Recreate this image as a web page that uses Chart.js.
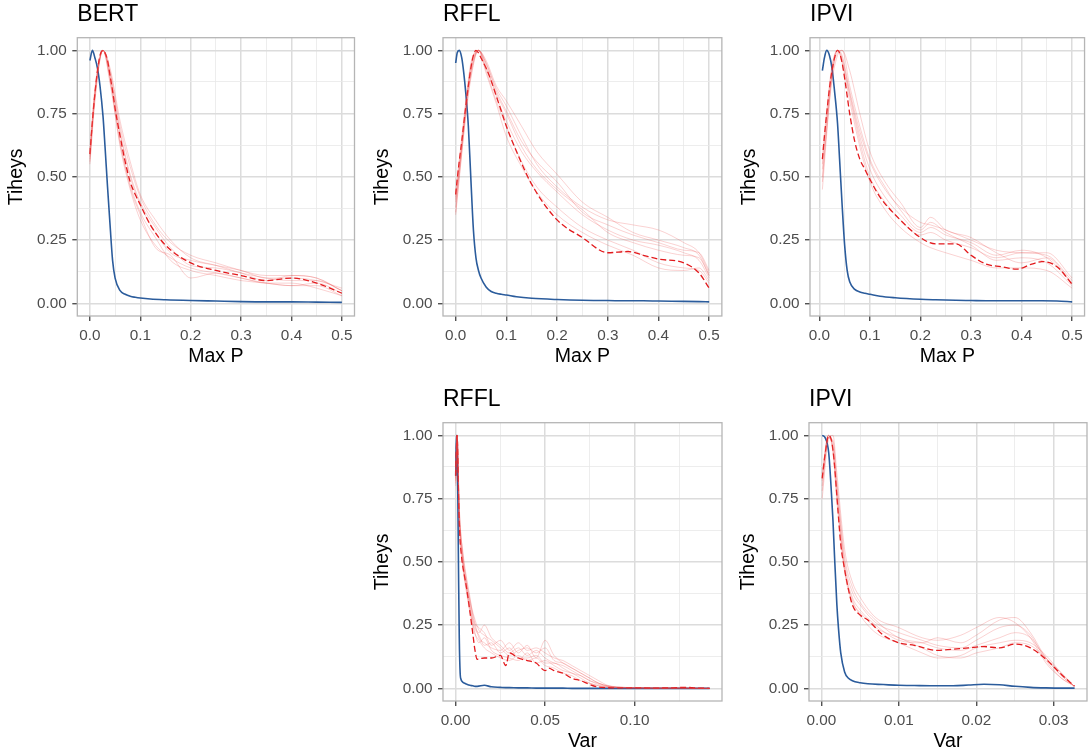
<!DOCTYPE html>
<html>
<head>
<meta charset="utf-8">
<script src="https://cdn.jsdelivr.net/npm/chart.js@4.4.0/dist/chart.umd.min.js"></script>
<style>
  html, body { margin: 0; padding: 0; background: #fff; overflow: hidden; }
  #wrap { position: relative; width: 1089px; height: 753px; }
  canvas { position: absolute; }
</style>
</head>
<body>
<div id="wrap">
  <canvas id="c1"></canvas>
  <canvas id="c2"></canvas>
  <canvas id="c3"></canvas>
  <canvas id="c4"></canvas>
  <canvas id="c5"></canvas>
</div>
<script>
// ---- BERT, Max P ----
const bertX    = [0, 0.005, 0.01, 0.015, 0.02, 0.026, 0.03, 0.035, 0.04, 0.045, 0.05, 0.06, 0.07, 0.08, 0.09, 0.1, 0.12, 0.15, 0.2, 0.25, 0.3, 0.35, 0.4, 0.45, 0.5];
const bertBlue = [0.96, 1.0, 0.97, 0.93, 0.86, 0.74, 0.62, 0.46, 0.31, 0.17, 0.1, 0.05, 0.036, 0.028, 0.024, 0.021, 0.017, 0.014, 0.011, 0.009, 0.007, 0.006, 0.006, 0.005, 0.004];
const bertMean = [0.59, 0.72, 0.83, 0.92, 0.98, 1.0, 0.99, 0.96, 0.9, 0.84, 0.77, 0.66, 0.56, 0.48, 0.43, 0.39, 0.31, 0.23, 0.16, 0.13, 0.11, 0.09, 0.1, 0.08, 0.04];
const bertThinX = [0, 0.01, 0.026, 0.04, 0.06, 0.08, 0.1, 0.13, 0.16, 0.2, 0.25, 0.3, 0.35, 0.4, 0.45, 0.5];
const bertThin = [
  [0.57, 0.82, 1.0, 0.92, 0.70, 0.54, 0.42, 0.31, 0.24, 0.19, 0.16, 0.13, 0.11, 0.11, 0.10, 0.05],
  [0.55, 0.80, 1.0, 0.88, 0.62, 0.45, 0.33, 0.23, 0.18, 0.14, 0.12, 0.10, 0.08, 0.07, 0.07, 0.03],
  [0.60, 0.84, 1.0, 0.91, 0.68, 0.51, 0.40, 0.30, 0.22, 0.15, 0.14, 0.12, 0.10, 0.09, 0.09, 0.05],
  [0.58, 0.83, 1.0, 0.89, 0.64, 0.46, 0.35, 0.22, 0.19, 0.10, 0.12, 0.10, 0.08, 0.08, 0.06, 0.03],
  [0.61, 0.85, 1.0, 0.90, 0.67, 0.50, 0.39, 0.28, 0.20, 0.17, 0.15, 0.13, 0.10, 0.10, 0.09, 0.06],
  [0.56, 0.81, 1.0, 0.87, 0.63, 0.47, 0.36, 0.26, 0.17, 0.13, 0.11, 0.09, 0.08, 0.07, 0.08, 0.04],
  [0.59, 0.83, 1.0, 0.93, 0.72, 0.56, 0.43, 0.33, 0.25, 0.18, 0.15, 0.12, 0.09, 0.11, 0.10, 0.05]
];

// ---- RFFL, Max P ----
const rfflX    = [0, 0.003, 0.007, 0.012, 0.016, 0.02, 0.025, 0.03, 0.035, 0.04, 0.045, 0.05, 0.06, 0.07, 0.08, 0.09, 0.1, 0.12, 0.15, 0.2, 0.25, 0.3, 0.34, 0.37, 0.4, 0.45, 0.48, 0.5];
const rfflBlue = [0.95, 0.99, 1.0, 0.97, 0.91, 0.83, 0.7, 0.49, 0.29, 0.18, 0.13, 0.1, 0.065, 0.047, 0.04, 0.036, 0.033, 0.026, 0.02, 0.015, 0.012, 0.011, 0.01, 0.01, 0.009, 0.008, 0.007, 0.006];
const rfflMean = [0.43, 0.49, 0.56, 0.64, 0.71, 0.78, 0.86, 0.93, 0.98, 1.0, 0.99, 0.97, 0.93, 0.88, 0.82, 0.76, 0.7, 0.6, 0.47, 0.33, 0.26, 0.2, 0.205, 0.19, 0.175, 0.16, 0.12, 0.06];
const rfflThinX = [0, 0.01, 0.02, 0.03, 0.045, 0.06, 0.08, 0.1, 0.13, 0.16, 0.2, 0.25, 0.3, 0.35, 0.4, 0.45, 0.48, 0.5];
const rfflThin = [
  [0.35, 0.55, 0.75, 0.90, 1.0, 0.95, 0.85, 0.78, 0.66, 0.55, 0.46, 0.38, 0.33, 0.31, 0.29, 0.24, 0.20, 0.12],
  [0.40, 0.58, 0.77, 0.92, 1.0, 0.94, 0.82, 0.72, 0.60, 0.52, 0.44, 0.35, 0.29, 0.25, 0.23, 0.20, 0.17, 0.10],
  [0.38, 0.57, 0.76, 0.91, 1.0, 0.96, 0.86, 0.80, 0.70, 0.60, 0.51, 0.40, 0.34, 0.28, 0.25, 0.22, 0.19, 0.11],
  [0.44, 0.62, 0.80, 0.95, 1.0, 0.92, 0.80, 0.70, 0.56, 0.46, 0.38, 0.30, 0.25, 0.21, 0.16, 0.14, 0.13, 0.08],
  [0.42, 0.60, 0.78, 0.93, 1.0, 0.93, 0.83, 0.75, 0.62, 0.53, 0.45, 0.37, 0.28, 0.24, 0.21, 0.19, 0.18, 0.11],
  [0.36, 0.56, 0.74, 0.89, 1.0, 0.95, 0.84, 0.76, 0.64, 0.56, 0.48, 0.36, 0.31, 0.27, 0.24, 0.21, 0.20, 0.13],
  [0.41, 0.59, 0.79, 0.94, 1.0, 0.91, 0.79, 0.66, 0.54, 0.44, 0.35, 0.28, 0.23, 0.19, 0.14, 0.13, 0.14, 0.09]
];

// ---- IPVI, Max P ----
const ipviX    = [0.006, 0.01, 0.0145, 0.02, 0.025, 0.03, 0.036, 0.04, 0.045, 0.05, 0.055, 0.06, 0.07, 0.08, 0.09, 0.1, 0.12, 0.15, 0.2, 0.23, 0.27, 0.3, 0.33, 0.36, 0.39, 0.42, 0.44, 0.47, 0.5];
const ipviBlue = [0.92, 0.97, 1.0, 0.98, 0.93, 0.84, 0.71, 0.57, 0.39, 0.23, 0.13, 0.085, 0.055, 0.045, 0.04, 0.036, 0.028, 0.022, 0.016, 0.014, 0.012, 0.011, 0.01, 0.01, 0.01, 0.01, 0.01, 0.009, 0.006];
const ipviMean = [0.57, 0.66, 0.75, 0.85, 0.92, 0.97, 1.0, 0.99, 0.95, 0.89, 0.82, 0.75, 0.64, 0.57, 0.53, 0.49, 0.42, 0.35, 0.26, 0.235, 0.235, 0.19, 0.155, 0.145, 0.135, 0.155, 0.165, 0.145, 0.075];
const ipviThinX = [0.006, 0.015, 0.025, 0.036, 0.045, 0.06, 0.08, 0.1, 0.13, 0.16, 0.2, 0.22, 0.25, 0.3, 0.35, 0.4, 0.45, 0.5];
const ipviThin = [
  [0.45, 0.68, 0.90, 1.0, 0.98, 0.84, 0.68, 0.56, 0.45, 0.38, 0.32, 0.31, 0.29, 0.25, 0.21, 0.20, 0.19, 0.09],
  [0.55, 0.75, 0.93, 1.0, 0.96, 0.82, 0.64, 0.50, 0.40, 0.33, 0.27, 0.28, 0.25, 0.22, 0.18, 0.20, 0.20, 0.10],
  [0.50, 0.70, 0.88, 0.98, 1.0, 0.92, 0.75, 0.60, 0.48, 0.40, 0.30, 0.34, 0.29, 0.26, 0.20, 0.16, 0.18, 0.08],
  [0.58, 0.77, 0.94, 1.0, 0.95, 0.80, 0.62, 0.48, 0.37, 0.30, 0.24, 0.22, 0.20, 0.17, 0.14, 0.14, 0.13, 0.06],
  [0.53, 0.73, 0.91, 1.0, 0.97, 0.83, 0.66, 0.53, 0.42, 0.35, 0.28, 0.30, 0.27, 0.24, 0.19, 0.21, 0.18, 0.08],
  [0.48, 0.70, 0.90, 0.99, 1.0, 0.86, 0.70, 0.57, 0.46, 0.37, 0.29, 0.32, 0.28, 0.23, 0.17, 0.18, 0.16, 0.07]
];

// ---- RFFL, Var ----
const rfflVarX    = [0, 0.0004, 0.0008, 0.0012, 0.0016, 0.002, 0.0025, 0.003, 0.0036, 0.005, 0.006, 0.008, 0.0095, 0.0108, 0.012, 0.016, 0.02, 0.025, 0.028, 0.03, 0.035, 0.04, 0.045, 0.05, 0.052, 0.055, 0.06, 0.065, 0.07, 0.075, 0.08, 0.09, 0.1, 0.11, 0.12, 0.128, 0.135, 0.142];
const rfflVarBlue = [0.84, 1.0, 0.95, 0.75, 0.45, 0.2, 0.06, 0.035, 0.027, 0.02, 0.017, 0.012, 0.01, 0.008, 0.008, 0.012, 0.006, 0.004, 0.003, 0.003, 0.002, 0.002, 0.001, 0.001, 0.001, 0.001, 0.001, 0, 0, 0, 0, 0, 0, 0, 0, 0, 0, 0];
const rfflVarMean = [0.84, 0.95, 1.0, 0.9, 0.76, 0.66, 0.58, 0.54, 0.5, 0.44, 0.4, 0.3, 0.22, 0.15, 0.115, 0.12, 0.12, 0.13, 0.09, 0.14, 0.12, 0.11, 0.1, 0.07, 0.08, 0.07, 0.06, 0.04, 0.03, 0.015, 0.005, 0.002, 0.002, 0.001, 0.002, 0.004, 0.001, 0];
const rfflVarThinX = [0, 0.0008, 0.002, 0.004, 0.006, 0.008, 0.01, 0.013, 0.016, 0.02, 0.025, 0.03, 0.035, 0.04, 0.045, 0.05, 0.055, 0.06, 0.065, 0.07, 0.075, 0.08, 0.085, 0.09, 0.1, 0.12, 0.142];
const rfflVarThin = [
  [0.82, 1, 0.68, 0.50, 0.40, 0.32, 0.26, 0.22, 0.25, 0.20, 0.17, 0.14, 0.16, 0.13, 0.15, 0.12, 0.10, 0.09, 0.07, 0.05, 0.03, 0.015, 0.008, 0.004, 0.002, 0.001, 0],
  [0.86, 1, 0.72, 0.52, 0.42, 0.34, 0.28, 0.20, 0.18, 0.16, 0.15, 0.18, 0.14, 0.17, 0.12, 0.19, 0.13, 0.10, 0.08, 0.06, 0.04, 0.02, 0.01, 0.005, 0.002, 0.001, 0],
  [0.80, 1, 0.66, 0.48, 0.38, 0.30, 0.24, 0.18, 0.20, 0.15, 0.13, 0.12, 0.11, 0.14, 0.10, 0.11, 0.09, 0.07, 0.06, 0.04, 0.02, 0.01, 0.006, 0.003, 0.001, 0, 0],
  [0.84, 1, 0.70, 0.54, 0.44, 0.36, 0.27, 0.24, 0.22, 0.17, 0.19, 0.15, 0.18, 0.15, 0.16, 0.14, 0.12, 0.11, 0.09, 0.07, 0.05, 0.03, 0.012, 0.006, 0.003, 0.001, 0],
  [0.83, 1, 0.69, 0.51, 0.41, 0.33, 0.25, 0.21, 0.17, 0.18, 0.14, 0.16, 0.12, 0.12, 0.13, 0.10, 0.10, 0.08, 0.06, 0.05, 0.03, 0.02, 0.008, 0.004, 0.002, 0.001, 0],
  [0.85, 1, 0.71, 0.53, 0.43, 0.35, 0.29, 0.23, 0.21, 0.19, 0.16, 0.13, 0.15, 0.16, 0.14, 0.16, 0.11, 0.10, 0.08, 0.06, 0.04, 0.02, 0.01, 0.005, 0.003, 0.002, 0],
  [0.81, 1, 0.67, 0.49, 0.39, 0.31, 0.23, 0.19, 0.16, 0.14, 0.12, 0.11, 0.13, 0.11, 0.12, 0.09, 0.08, 0.06, 0.05, 0.03, 0.02, 0.01, 0.005, 0.002, 0.001, 0, 0]
];

// ---- IPVI, Var ----
const ipviVarX    = [0.0001, 0.0005, 0.00095, 0.0013, 0.0015, 0.0017, 0.002, 0.0022, 0.0025, 0.003, 0.0035, 0.004, 0.005, 0.006, 0.008, 0.01, 0.012, 0.015, 0.017, 0.019, 0.021, 0.023, 0.025, 0.027, 0.029, 0.031, 0.0327];
const ipviVarBlue = [1.0, 0.99, 0.93, 0.77, 0.66, 0.52, 0.33, 0.24, 0.14, 0.065, 0.04, 0.03, 0.022, 0.018, 0.015, 0.012, 0.011, 0.01, 0.01, 0.013, 0.016, 0.014, 0.008, 0.004, 0.002, 0.001, 0.001];
const ipviVarMean = [0.83, 0.93, 1.0, 0.98, 0.94, 0.88, 0.76, 0.68, 0.57, 0.47, 0.39, 0.33, 0.29, 0.27, 0.21, 0.18, 0.17, 0.15, 0.155, 0.16, 0.165, 0.16, 0.175, 0.16, 0.115, 0.055, 0.008];
const ipviVarThinX = [0.0001, 0.0009, 0.0015, 0.002, 0.003, 0.004, 0.005, 0.007, 0.01, 0.013, 0.015, 0.018, 0.02, 0.023, 0.025, 0.027, 0.029, 0.031, 0.0326];
const ipviVarThin = [
  [0.75, 0.98, 1.0, 0.85, 0.55, 0.42, 0.36, 0.28, 0.24, 0.20, 0.19, 0.21, 0.24, 0.28, 0.26, 0.20, 0.10, 0.04, 0.01],
  [0.82, 1.0, 0.95, 0.78, 0.48, 0.36, 0.31, 0.25, 0.19, 0.18, 0.20, 0.18, 0.21, 0.27, 0.28, 0.22, 0.12, 0.05, 0.01],
  [0.85, 1.0, 0.93, 0.74, 0.46, 0.34, 0.30, 0.24, 0.20, 0.16, 0.13, 0.12, 0.14, 0.16, 0.18, 0.17, 0.12, 0.06, 0.01],
  [0.80, 0.99, 0.97, 0.80, 0.50, 0.38, 0.33, 0.26, 0.22, 0.19, 0.17, 0.16, 0.19, 0.24, 0.25, 0.21, 0.11, 0.04, 0.01],
  [0.84, 1.0, 0.94, 0.76, 0.47, 0.35, 0.29, 0.22, 0.18, 0.14, 0.12, 0.13, 0.16, 0.18, 0.19, 0.18, 0.13, 0.06, 0.01],
  [0.78, 0.99, 0.98, 0.82, 0.52, 0.40, 0.34, 0.27, 0.20, 0.18, 0.16, 0.15, 0.17, 0.20, 0.22, 0.20, 0.12, 0.05, 0.01]
];

// axis breaks
const yMajor = [0, 0.25, 0.5, 0.75, 1];
const yMinor = [0.125, 0.375, 0.625, 0.875];
const maxPMajor = [0, 0.1, 0.2, 0.3, 0.4, 0.5];
const maxPMinor = [0.05, 0.15, 0.25, 0.35, 0.45];
const rfflVarMajor = [0, 0.05, 0.1];
const rfflVarMinor = [0.025, 0.075, 0.125];
const ipviVarMajor = [0, 0.01, 0.02, 0.03];
const ipviVarMinor = [0.005, 0.015, 0.025];

const FONT = "'Liberation Sans', Arial, Helvetica, sans-serif";
const BLUE = '#2b5c9c';
const RED = '#e2191c';
const THIN = 'rgba(232, 60, 60, 0.26)';

function pts(xs, ys) {
  return xs.map((x, i) => ({ x: x, y: ys[i] }));
}

function tickList(major, minor) {
  const t = major.map(v => ({ value: v, mj: true })).concat(minor.map(v => ({ value: v, mj: false })));
  return t.sort((a, b) => a.value - b.value);
}

// panel frame drawn over the data, like ggplot's panel.border
const frame = {
  id: 'frame',
  afterDatasetsDraw(chart) {
    const a = chart.chartArea, ctx = chart.ctx;
    ctx.save();
    ctx.strokeStyle = '#b5b5b5';
    ctx.lineWidth = 1.3;
    ctx.strokeRect(a.left, a.top, a.right - a.left, a.bottom - a.top);
    ctx.restore();
  }
};

function axisGrid() {
  return {
    color: c => c.tick && c.tick.mj ? '#dcdcdc' : '#e9e9e9',
    lineWidth: c => c.tick && c.tick.mj ? 1.5 : 0.8,
    tickColor: c => c.tick && c.tick.mj ? '#333333' : 'rgba(0,0,0,0)',
    tickWidth: 1.2,
    tickLength: 5,
    drawTicks: true
  };
}

function makePanel(p) {
  const canvas = document.getElementById(p.id);
  canvas.width = p.w;
  canvas.height = p.h;
  canvas.style.left = p.left + 'px';
  canvas.style.top = p.top + 'px';

  const datasets = [];
  p.thin.forEach(t => {
    datasets.push({ data: pts(p.thinX, t), borderColor: THIN, borderWidth: 0.9 });
  });
  datasets.push({ data: pts(p.x, p.mean), borderColor: RED, borderWidth: 1.3, borderDash: [6, 3] });
  datasets.push({ data: pts(p.x, p.blue), borderColor: BLUE, borderWidth: 1.6 });

  new Chart(canvas, {
    type: 'line',
    data: { datasets: datasets },
    options: {
      responsive: false,
      animation: false,
      devicePixelRatio: 1,
      layout: { padding: { left: 0, top: 0, bottom: 0, right: p.padRight } },
      elements: {
        point: { radius: 0 },
        line: { cubicInterpolationMode: 'monotone', fill: false }
      },
      plugins: {
        legend: { display: false },
        tooltip: { enabled: false },
        title: {
          display: true,
          text: p.title,
          align: 'start',
          fullSize: false,
          color: '#000',
          font: { family: FONT, size: 23, weight: 'normal', lineHeight: 1 },
          padding: { top: 3, bottom: 11.7 }
        }
      },
      scales: {
        x: {
          type: 'linear',
          min: p.xMin,
          max: p.xMax,
          afterBuildTicks: s => { s.ticks = tickList(p.xMajor, p.xMinor); },
          afterFit: s => { s.height = 54; },
          border: { display: false },
          grid: axisGrid(),
          ticks: {
            autoSkip: false,
            maxRotation: 0,
            padding: 6,
            color: '#4d4d4d',
            font: { family: FONT, size: 15.3 },
            callback: (v, i, t) => t[i].mj ? v.toFixed(p.xDigits) : ''
          },
          title: {
            display: true,
            text: p.xTitle,
            color: '#000',
            font: { family: FONT, size: 19.5 },
            padding: { top: 0, bottom: 1.3 }
          }
        },
        y: {
          type: 'linear',
          min: -0.05,
          max: 1.05,
          afterBuildTicks: s => { s.ticks = tickList(yMajor, yMinor); },
          afterFit: s => { s.width = p.yW; },
          border: { display: false },
          grid: axisGrid(),
          ticks: {
            autoSkip: false,
            padding: 5.5,
            color: '#4d4d4d',
            font: { family: FONT, size: 15.3 },
            callback: (v, i, t) => t[i].mj ? v.toFixed(2) : ''
          },
          title: {
            display: true,
            text: 'Tiheys',
            color: '#000',
            font: { family: FONT, size: 19.5 },
            padding: { top: 4.8, bottom: 0 }
          }
        }
      }
    },
    plugins: [frame]
  });
}

const panels = [
  { id: 'c1', title: 'BERT', left: 0, top: 0, w: 360, h: 370, yW: 77.3, padRight: 5.5,
    x: bertX, blue: bertBlue, mean: bertMean, thinX: bertThinX, thin: bertThin,
    xMin: -0.025, xMax: 0.525, xMajor: maxPMajor, xMinor: maxPMinor, xDigits: 1, xTitle: 'Max P' },
  { id: 'c2', title: 'RFFL', left: 366, top: 0, w: 360, h: 370, yW: 77, padRight: 4,
    x: rfflX, blue: rfflBlue, mean: rfflMean, thinX: rfflThinX, thin: rfflThin,
    xMin: -0.025, xMax: 0.525, xMajor: maxPMajor, xMinor: maxPMinor, xDigits: 1, xTitle: 'Max P' },
  { id: 'c3', title: 'IPVI', left: 733, top: 0, w: 356, h: 370, yW: 77, padRight: 2,
    x: ipviX, blue: ipviBlue, mean: ipviMean, thinX: ipviThinX, thin: ipviThin,
    xMin: -0.0185, xMax: 0.5245, xMajor: maxPMajor, xMinor: maxPMinor, xDigits: 1, xTitle: 'Max P' },
  { id: 'c4', title: 'RFFL', left: 366, top: 385, w: 360, h: 370, yW: 77, padRight: 4,
    x: rfflVarX, blue: rfflVarBlue, mean: rfflVarMean, thinX: rfflVarThinX, thin: rfflVarThin,
    xMin: -0.0071, xMax: 0.1489, xMajor: rfflVarMajor, xMinor: rfflVarMinor, xDigits: 2, xTitle: 'Var' },
  { id: 'c5', title: 'IPVI', left: 732, top: 385, w: 357, h: 370, yW: 77, padRight: 2,
    x: ipviVarX, blue: ipviVarBlue, mean: ipviVarMean, thinX: ipviVarThinX, thin: ipviVarThin,
    xMin: -0.0016, xMax: 0.0343, xMajor: ipviVarMajor, xMinor: ipviVarMinor, xDigits: 2, xTitle: 'Var' }
];

panels.forEach(makePanel);
</script>
</body>
</html>
